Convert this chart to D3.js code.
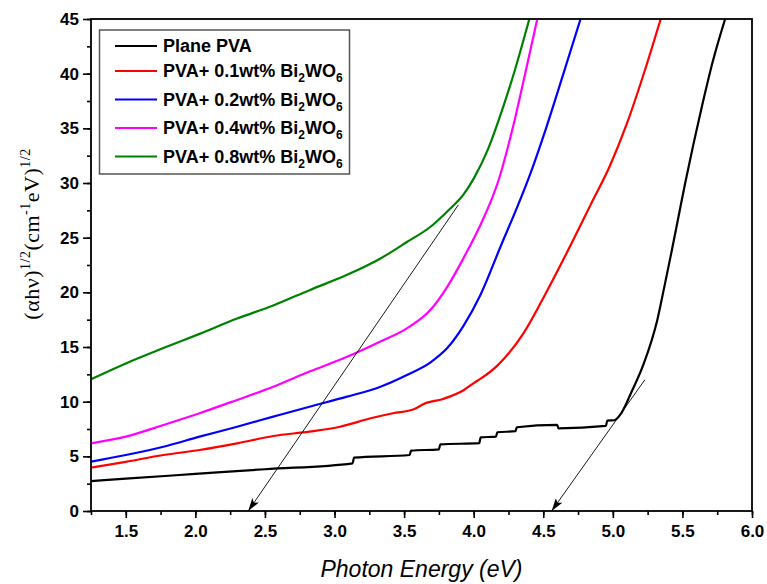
<!DOCTYPE html>
<html>
<head>
<meta charset="utf-8">
<script src="https://cdn.jsdelivr.net/npm/d3@7"></script>
<style>
  body { margin: 0; background: #fff; }
  svg { display: block; }
</style>
</head>
<body>
<script>
var width = 767,
    height = 584;

var margin = {top: 19, right: 15, bottom: 73, left: 91};

// data: [photon energy (eV), (ahv)^1/2]
var plainPVA = [[1.25,2.74],[1.5,2.96],[2.0,3.39],[2.5,3.82],[3.13,4.36],[3.14,4.88],[3.54,5.12],[3.55,5.52],
  [3.75,5.64],[3.76,6.1],[4.04,6.2],[4.05,6.74],[4.16,6.8],[4.17,7.2],[4.3,7.3],[4.31,7.66],[4.6,7.87],
  [4.61,7.56],[4.95,7.78],[4.96,8.26],[5.01,8.3],[5.06,8.94],[5.13,10.77],[5.22,13.4],[5.32,17.5],
  [5.37,20.5],[5.42,23.6],[5.47,26.8],[5.52,30.0],[5.58,33.6],[5.64,37.0],[5.72,41.2],[5.807,45]];
var pva01 = [[1.25,3.96],[1.5,4.5],[1.77,5.12],[2.03,5.58],[2.3,6.19],[2.56,6.86],[2.82,7.26],[3.04,7.71],
  [3.26,8.48],[3.42,8.94],[3.57,9.3],[3.64,9.79],[3.78,10.25],[3.93,11.07],[4.0,11.7],[4.05,12.1],
  [4.17,13.3],[4.36,16.3],[4.53,20.2],[4.70,24.4],[4.84,28.0],[4.98,31.6],[5.10,35.4],[5.22,39.9],[5.344,45]];
var pva02 = [[1.25,4.51],[1.5,5.12],[1.77,5.88],[2.03,6.8],[2.3,7.71],[2.56,8.63],[2.82,9.54],[3.09,10.46],
  [3.33,11.37],[3.52,12.44],[3.69,13.6],[3.81,14.9],[3.93,17.0],[4.05,19.8],[4.2,24.4],[4.3,27.4],
  [4.40,30.6],[4.52,35],[4.645,40],[4.768,45]];
var pva04 = [[1.25,6.19],[1.5,6.8],[1.77,7.87],[2.03,8.94],[2.3,10.16],[2.56,11.37],[2.82,12.75],[3.09,14.1],
  [3.33,15.5],[3.52,16.7],[3.69,18.4],[3.81,20.5],[3.93,23.2],[4.05,26.2],[4.18,30.3],[4.28,35],
  [4.37,40],[4.457,45]];
var pva08 = [[1.25,12.05],[1.5,13.5],[1.77,14.9],[2.03,16.2],[2.3,17.6],[2.56,18.8],[2.82,20.2],[3.09,21.6],
  [3.33,23.1],[3.52,24.6],[3.69,26.0],[3.81,27.4],[3.93,29.0],[4.0,30.4],[4.1,33.0],[4.2,36.5],[4.3,40.5],[4.40,45]];

var seriesNames = ["Plane PVA", "PVA+ 0.1wt% Bi", "PVA+ 0.2wt% Bi", "PVA+ 0.4wt% Bi", "PVA+ 0.8wt% Bi"];
var seriesData = [plainPVA, pva01, pva02, pva04, pva08];
var colors = ["#000000", "#ff0000", "#0000ff", "#ff00ff", "#008000"];

var xTicks = [1.5, 2.0, 2.5, 3.0, 3.5, 4.0, 4.5, 5.0, 5.5, 6.0];
var yTicks = [0, 5, 10, 15, 20, 25, 30, 35, 40, 45];

// tangent lines (extrapolated band gap), start -> arrow tip
var tangents = [
  [[3.89, 28.0], [2.38, 0]],
  [[5.23, 12.0], [4.56, 0]]
];

var svg = d3.select("body").append("svg")
    .attr("width", width)
    .attr("height", height);

var defs = svg.append("defs");
defs.append("marker")
    .attr("id", "arrow")
    .attr("viewBox", "0 0 13 8")
    .attr("refX", 13)
    .attr("refY", 4)
    .attr("markerWidth", 13)
    .attr("markerHeight", 8)
    .attr("markerUnits", "userSpaceOnUse")
    .attr("orient", "auto")
  .append("path")
    .attr("d", "M0,0 L13,4 L0,8 L3,4 Z")
    .attr("fill", "#000");

var x = d3.scaleLinear().domain([1.25, 6.0]).range([margin.left, width - margin.right]);
var y = d3.scaleLinear().domain([0, 45]).range([height - margin.bottom, margin.top]);

var plot = svg.append("g");

plot.append("clipPath").attr("id", "clip")
  .append("rect")
    .attr("x", x(1.25)).attr("y", y(45))
    .attr("width", x(6) - x(1.25)).attr("height", y(0) - y(45));

var line = d3.line()
    .x(function(d) { return x(d[0]); })
    .y(function(d) { return y(d[1]); })
    .curve(d3.curveMonotoneX);

for (var i = 0; i < seriesData.length; i++) {
  plot.append("path")
      .datum(seriesData[i])
      .attr("clip-path", "url(#clip)")
      .attr("fill", "none")
      .attr("stroke", colors[i])
      .attr("stroke-width", 2.2)
      .attr("d", line);
}

// tangent arrows
tangents.forEach(function(t) {
  svg.append("line")
      .attr("x1", x(t[0][0])).attr("y1", y(t[0][1]))
      .attr("x2", x(t[1][0])).attr("y2", y(t[1][1]))
      .attr("stroke", "#000")
      .attr("stroke-width", 0.9)
      .attr("marker-end", "url(#arrow)");
});

// axes
var xMinor = d3.range(1.25, 6.01, 0.25);
var yMinor = d3.range(0, 45.1, 2.5);

var xAxis = svg.append("g")
    .attr("transform", "translate(0," + y(0) + ")");
xAxis.call(d3.axisBottom(x).tickValues(xMinor).tickSize(4).tickFormat(""))
    .call(function(g) { g.select(".domain").remove(); });
xAxis.append("g")
    .call(d3.axisBottom(x).tickValues(xTicks).tickSize(7).tickPadding(7).tickFormat(d3.format(".1f")))
    .call(function(g) { g.select(".domain").remove(); });

var yAxis = svg.append("g")
    .attr("transform", "translate(" + x(1.25) + ",0)");
yAxis.call(d3.axisLeft(y).tickValues(yMinor).tickSize(4).tickFormat(""))
    .call(function(g) { g.select(".domain").remove(); });
yAxis.append("g")
    .call(d3.axisLeft(y).tickValues(yTicks).tickSize(8).tickPadding(4).tickFormat(d3.format("d")))
    .call(function(g) { g.select(".domain").remove(); });

svg.selectAll(".tick line").attr("stroke", "#000").attr("stroke-width", 1.6);
svg.selectAll(".tick text")
    .attr("fill", "#000")
    .style("font-family", "'Liberation Sans', Arial, sans-serif")
    .style("font-weight", "bold")
    .style("font-size", "17px");

// frame
svg.append("rect")
    .attr("x", x(1.25)).attr("y", y(45))
    .attr("width", x(6) - x(1.25)).attr("height", y(0) - y(45))
    .attr("fill", "none")
    .attr("stroke", "#000")
    .attr("stroke-width", 1.8);

// axis titles
svg.append("text")
    .attr("x", (x(1.25) + x(6)) / 2)
    .attr("y", 577)
    .attr("text-anchor", "middle")
    .style("font-family", "'Liberation Sans', Arial, sans-serif")
    .style("font-style", "italic")
    .style("font-size", "23px")
    .text("Photon Energy (eV)");

var yTitle = svg.append("text")
    .attr("transform", "translate(39,234) rotate(-90)")
    .attr("text-anchor", "middle")
    .style("font-family", "'Liberation Serif', 'Times New Roman', serif")
    .style("font-size", "22px")
    .style("letter-spacing", "0.5px");
yTitle.append("tspan").text("(αhν)");
yTitle.append("tspan").attr("dy", -9).style("font-size", "14px").text("1/2");
yTitle.append("tspan").attr("dy", 9).text("(cm");
yTitle.append("tspan").attr("dy", -9).style("font-size", "14px").text("-1");
yTitle.append("tspan").attr("dy", 9).text("eV)");
yTitle.append("tspan").attr("dy", -9).style("font-size", "14px").text("1/2");

// legend
var legend = svg.append("g");
legend.append("rect")
    .attr("x", 99.5).attr("y", 30)
    .attr("width", 250).attr("height", 144)
    .attr("fill", "#fff")
    .attr("stroke", "#555")
    .attr("stroke-width", 1.5);

seriesNames.forEach(function(name, i) {
  var ly = i === 0 ? 46 : 71 + (i - 1) * 28.5;
  legend.append("line")
      .attr("x1", 115).attr("x2", 157)
      .attr("y1", ly).attr("y2", ly)
      .attr("stroke", colors[i])
      .attr("stroke-width", 2.2);
  var t = legend.append("text")
      .attr("x", 163)
      .attr("y", ly + 6)
      .style("font-family", "'Liberation Sans', Arial, sans-serif")
      .style("font-weight", "bold")
      .style("font-size", "18px")
      .text(name);
  if (i > 0) {
    t.append("tspan").attr("dy", 5).style("font-size", "12px").text("2");
    t.append("tspan").attr("dy", -5).text("WO");
    t.append("tspan").attr("dy", 5).style("font-size", "12px").text("6");
  }
});
</script>
</body>
</html>
